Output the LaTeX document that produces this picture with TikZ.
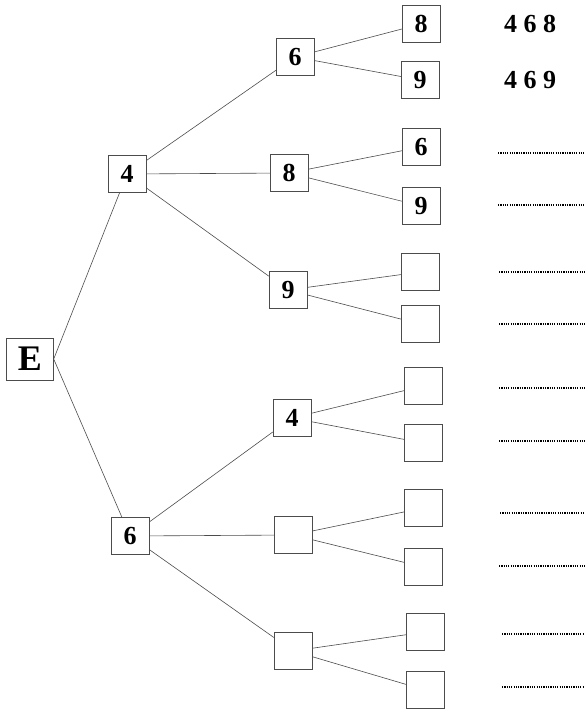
\documentclass[tikz,border=0pt]{standalone}
\usepackage{fontspec}
\setmainfont{Liberation Serif}
\usepackage{tikz}

\begin{document}
\begin{tikzpicture}[x=1pt, y=-1pt]
            \tikzstyle{box} = [draw=black!70, rectangle, minimum width=38pt, minimum height=37pt, inner sep=0pt, font=\fontsize{26}{30}\selectfont\bfseries];
            \tikzstyle{start} = [box, minimum width=47pt, minimum height=42pt, font=\fontsize{36}{40}\selectfont\bfseries];
            \tikzstyle{result} = [inner sep=0pt, font=\fontsize{26}{30}\selectfont\bfseries];
            \tikzstyle{branch} = [draw=black!70, line width=0.6pt];
            \tikzstyle{blank} = [line width=1.3pt, dash pattern=on 1.2pt off 1.1pt];
            \useasboundingbox (0,0) rectangle (585,711);

            \node [start] (E) at (30,359) {E};

            \node [box] (A4) at (127,174) {4};
            \node [box] (A6) at (130,536) {6};

            \node [box] (B6) at (295,57) {6};
            \node [box] (B8) at (289,173) {8};
            \node [box] (B9) at (288,290) {9};
            \node [box] (B4) at (292,418) {4};
            \node [box] (B5) at (293,535) {};
            \node [box] (B7) at (293,651) {};

            \node [box] (C1) at (421,24) {8};
            \node [box] (C2) at (420,80) {9};
            \node [box] (C3) at (421,147) {6};
            \node [box] (C4) at (421,206) {9};
            \node [box] (C5) at (420,272) {};
            \node [box] (C6) at (420,324) {};
            \node [box] (C7) at (423,386) {};
            \node [box] (C8) at (423,443) {};
            \node [box] (C9) at (423,508) {};
            \node [box] (C10) at (423,567) {};
            \node [box] (C11) at (425,632) {};
            \node [box] (C12) at (425,690) {};

            \node [result] (R1) at (530,24) {4 6 8};
            \node [result] (R2) at (530,80) {4 6 9};

            \draw [branch] (E.east) to (A4);
            \draw [branch] (E.east) to (A6);
            \draw [branch] (A4) to (B6);
            \draw [branch] (A4) to (B8);
            \draw [branch] (A4) to (B9);
            \draw [branch] (A6) to (B4);
            \draw [branch] (A6) to (B5);
            \draw [branch] (A6) to (B7);
            \draw [branch] (B6) to (C1);
            \draw [branch] (B6) to (C2);
            \draw [branch] (B8) to (C3);
            \draw [branch] (B8) to (C4);
            \draw [branch] (B9) to (C5);
            \draw [branch] (B9) to (C6);
            \draw [branch] (B4) to (C7);
            \draw [branch] (B4) to (C8);
            \draw [branch] (B5) to (C9);
            \draw [branch] (B5) to (C10);
            \draw [branch] (B7) to (C11);
            \draw [branch] (B7) to (C12);

            \draw [blank] (498,153) -- (585,153);
            \draw [blank] (498,205) -- (585,205);
            \draw [blank] (499,272) -- (585,272);
            \draw [blank] (499,324) -- (585,324);
            \draw [blank] (499,388) -- (585,388);
            \draw [blank] (499,441) -- (585,441);
            \draw [blank] (500,513) -- (585,513);
            \draw [blank] (499,566) -- (585,566);
            \draw [blank] (502,634) -- (585,634);
            \draw [blank] (502,687) -- (585,687);
        \end{tikzpicture}
\end{document}
